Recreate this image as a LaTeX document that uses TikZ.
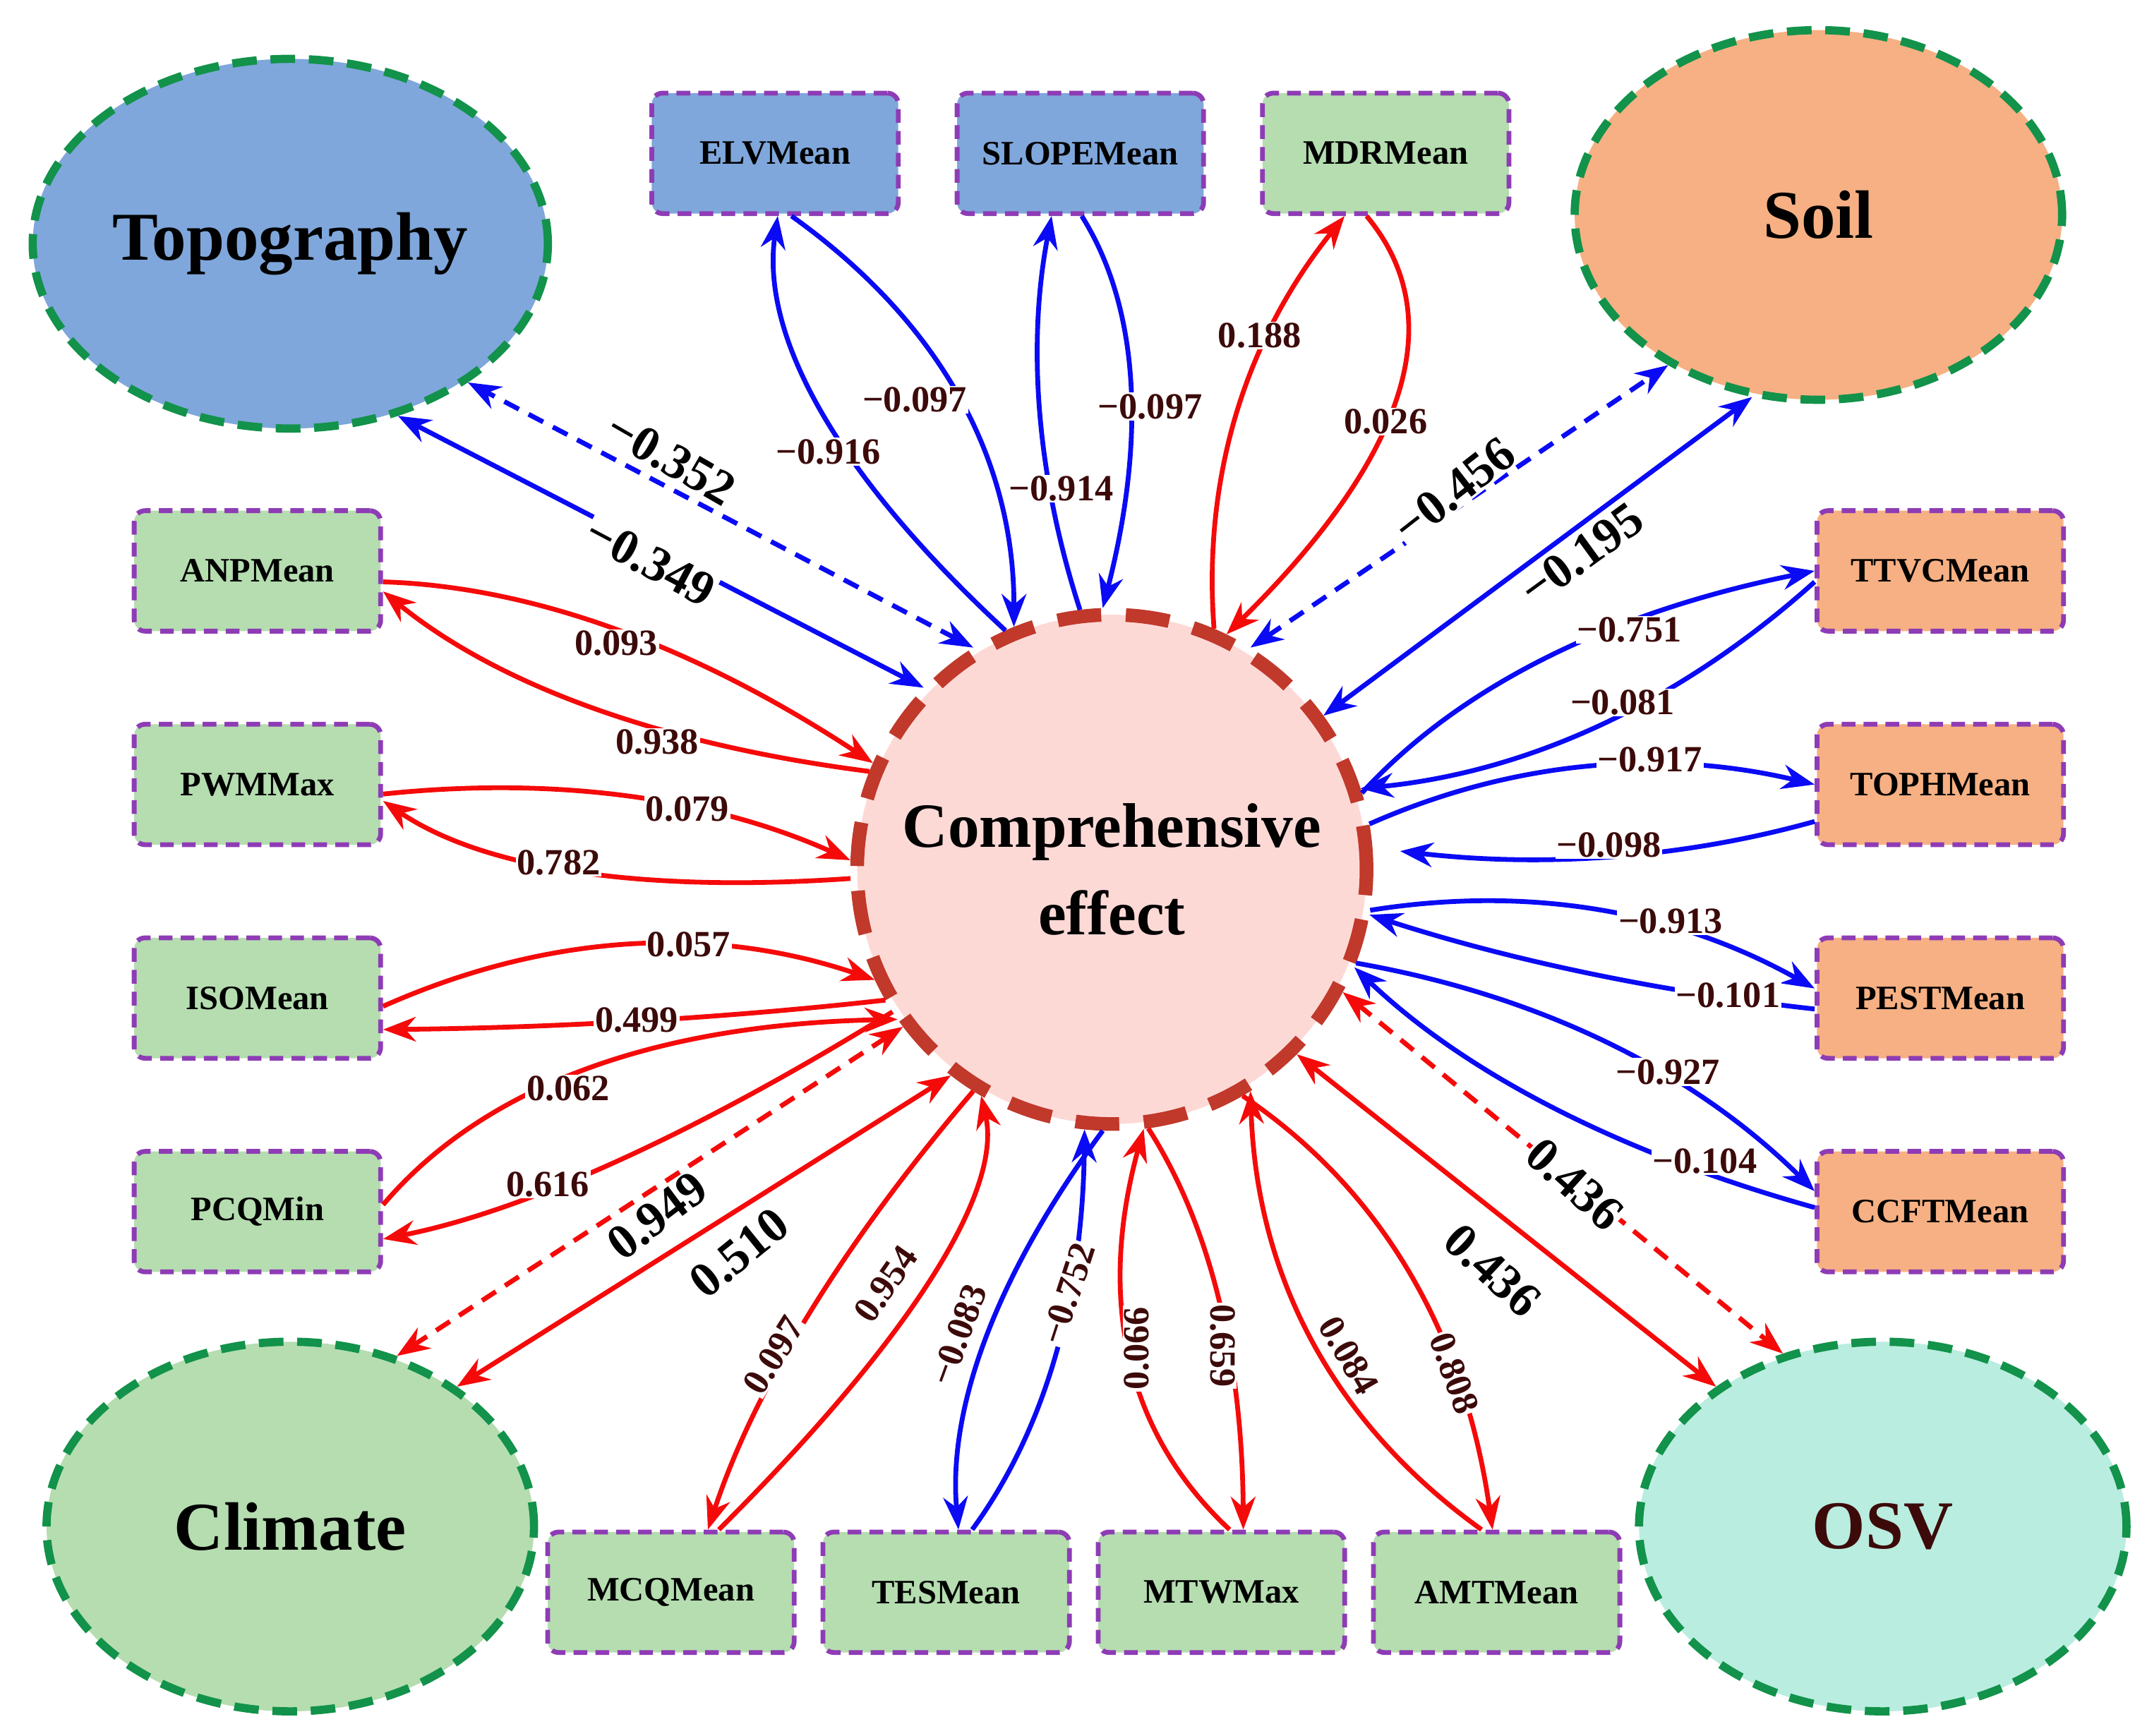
\documentclass[tikz,border=0pt]{standalone}
\usepackage{fontspec}
\setmainfont{Liberation Serif}
\usetikzlibrary{arrows.meta,shapes.geometric,calc}
\definecolor{topo}{HTML}{7FA7DB}
\definecolor{soil}{HTML}{F6B083}
\definecolor{clim}{HTML}{B5DDB0}
\definecolor{osv}{HTML}{B9EDE0}
\definecolor{cen}{HTML}{FDD9D6}
\definecolor{cenb}{HTML}{C0392B}
\definecolor{grn}{HTML}{12924A}
\definecolor{pur}{HTML}{8E3CB5}
\definecolor{lab}{HTML}{3D0A0A}
\definecolor{bl}{HTML}{0A0AF5}
\definecolor{rd}{HTML}{F50A0A}
\tikzset{
 big/.style={ellipse,draw=grn,line width=6pt,dash pattern=on 18pt off 10pt,minimum width=356pt,minimum height=270pt,font=\fontsize{50}{56}\selectfont\bfseries},
 box/.style={rectangle,rounded corners=8pt,draw=pur,line width=3.5pt,dash pattern=on 10pt off 6pt,minimum width=180pt,minimum height=88pt,font=\fontsize{25}{28}\selectfont\bfseries},
 cb/.style={bl,line width=3.5pt,-{Stealth[length=24pt,width=18pt]}},
 cr/.style={rd,line width=3.5pt,-{Stealth[length=24pt,width=18pt]}},
 bb/.style={bl,line width=3.5pt,{Stealth[length=24pt,width=18pt]}-{Stealth[length=24pt,width=18pt]}},
 br/.style={rd,line width=3.5pt,{Stealth[length=24pt,width=18pt]}-{Stealth[length=24pt,width=18pt]}},
 lb/.style={text=lab,fill=white,inner sep=1pt,font=\fontsize{27}{29}\selectfont\bfseries},
 lg/.style={text=black,fill=white,inner sep=1pt,font=\fontsize{36}{40}\selectfont\bfseries},
 quad/.style={to path={.. controls ($(\tikztostart)!0.667!#1$) and ($(\tikztotarget)!0.667!#1$) .. (\tikztotarget)}},
}
\begin{document}
\begin{tikzpicture}[x=1pt,y=-1pt]
\useasboundingbox (0,0) rectangle (1568,1268);
\node[big,fill=topo] (T) at (212,178) {Topography};
\node[big,fill=soil] (S) at (1328,157) {Soil};
\node[big,fill=clim] (CL) at (212,1115) {Climate};
\node[big,fill=osv,text=lab] (O) at (1375,1115) {OSV};
\node[circle,fill=cen,draw=cenb,line width=10pt,dash pattern=on 32pt off 18pt,minimum size=372pt,align=center,font=\fontsize{46}{64}\selectfont\bfseries] (C) at (812,635) {Comprehensive\\effect};
\node[box,fill=topo] (ELV) at (566,112) {ELVMean};
\node[box,fill=topo] (SLO) at (789,112) {SLOPEMean};
\node[box,fill=clim] (MDR) at (1012,112) {MDRMean};
\node[box,fill=clim] (ANP) at (188,417) {ANPMean};
\node[box,fill=clim] (PWM) at (188,573) {PWMMax};
\node[box,fill=clim] (ISO) at (188,729) {ISOMean};
\node[box,fill=clim] (PCQ) at (188,885) {PCQMin};
\node[box,fill=soil] (TTV) at (1417,417) {TTVCMean};
\node[box,fill=soil] (TOP) at (1417,573) {TOPHMean};
\node[box,fill=soil] (PES) at (1417,729) {PESTMean};
\node[box,fill=soil] (CCF) at (1417,885) {CCFTMean};
\node[box,fill=clim] (MCQ) at (490,1163) {MCQMean};
\node[box,fill=clim] (TES) at (691,1163) {TESMean};
\node[box,fill=clim] (MTW) at (892,1163) {MTWMax};
\node[box,fill=clim] (AMT) at (1093,1163) {AMTMean};
% top
\draw[cb] (C.114) to[quad={(549,289)}] ([xshift=2pt]ELV.south);
\draw[cb] ([xshift=12pt]ELV.south) to[quad={(741,274)}] (C.112);
\draw[cb] (C.97) to[quad={(741,298)}] ([xshift=-21pt]SLO.south);
\draw[cb] ([xshift=1pt]SLO.south) to[quad={(853,258)}] (C.92);
\draw[cr] (C.67) to[quad={(874,292)}] ([xshift=-30pt]MDR.south);
\draw[cr] ([xshift=-14pt]MDR.south) to[quad={(1092,270)}] (C.64);
\node[lb] at (605,330) {−0.916};
\node[lb] at (668,292) {−0.097};
\node[lb] at (775,357) {−0.914};
\node[lb] at (840,297) {−0.097};
\node[lb] at (920,245) {0.188};
\node[lb] at (1012,308) {0.026};
% right
\draw[cb] (C.17) to[quad={(1102,462)}] (TTV.west);
\draw[cb] ([yshift=-8pt]TTV.west) to[quad={(1177,558)}] (C.18);
\draw[cb] (C.10) to[quad={(1156,533)}] (TOP.west);
\draw[cb] ([yshift=-27pt]TOP.west) to[quad={(1182,640)}] ([xshift=20pt]C.4);
\draw[cb] (C.-9) to[quad={(1174,637)}] ([yshift=7pt]PES.west);
\draw[cb] ([yshift=-8pt]PES.west) to[quad={(1154,718)}] (C.-10);
\draw[cb] (C.-21) to[quad={(1193,739)}] ([yshift=15pt]CCF.west);
\draw[cb] ([yshift=3pt]CCF.west) to[quad={(1110,822)}] (C.-22);
\node[lb] at (1190,460) {−0.751};
\node[lb] at (1185,513) {−0.081};
\node[lb] at (1205,555) {−0.917};
\node[lb] at (1175,617) {−0.098};
\node[lb] at (1220,673) {−0.913};
\node[lb] at (1262,727) {−0.101};
\node[lb] at (1218,783) {−0.927};
\node[lb] at (1245,848) {−0.104};
% bottom
\draw[cr] (C.-60) to[quad={(1060,903)}] ([xshift=-3pt]AMT.north);
\draw[cr] ([xshift=-11pt]AMT.north) to[quad={(920,1001)}] (C.-58);
\draw[cr] (C.-82) to[quad={(907,931)}] ([xshift=16pt]MTW.north);
\draw[cr] ([xshift=6pt]MTW.north) to[quad={(784,1011)}] (C.-83);
\draw[cb] (C.-92) to[quad={(688,985)}] ([xshift=9pt]TES.north);
\draw[cb] ([xshift=19pt]TES.north) to[quad={(790,1008)}] (C.-96);
\draw[cr] (C.-122) to[quad={(567,965)}] ([xshift=27pt]MCQ.north);
\draw[cr] ([xshift=35pt]MCQ.north) to[quad={(740,903)}] (C.-120);
\node[lb,rotate=-70] at (1062,1003) {0.808};
\node[lb,rotate=-60] at (985,990) {0.084};
\node[lb,rotate=-90] at (893,983) {0.659};
\node[lb,rotate=90] at (830,985) {0.066};
\node[lb,rotate=72] at (780,945) {−0.752};
\node[lb,rotate=70] at (700,975) {−0.083};
\node[lb,rotate=55] at (647,938) {0.954};
\node[lb,rotate=58] at (565,990) {0.097};
% left
\draw[cr] ([yshift=-8pt]ANP.east) to[quad={(444,430)}] (C.156);
\draw[cr] (C.158) to[quad={(405,534)}] ([yshift=-15pt]ANP.east);
\draw[cr] (C.182) to[quad={(387,658)}] ([yshift=-12pt]PWM.east);
\draw[cr] ([yshift=-7pt]PWM.east) to[quad={(469,560)}] (C.178);
\draw[cr] ([yshift=-6pt]ISO.east) to[quad={(460,655)}] (C.-155);
\draw[cr] (C.-150) to[quad={(472,750)}] ([yshift=-23pt]ISO.east);
\draw[cr] ([yshift=5pt]PCQ.east) to[quad={(390,750)}] (C.-145);
\draw[cr] (C.-147) to[quad={(432,875)}] ([yshift=-20pt]PCQ.east);
\node[lb] at (450,470) {0.093};
\node[lb] at (480,542) {0.938};
\node[lb] at (502,591) {0.079};
\node[lb] at (408,630) {0.782};
\node[lb] at (503,690) {0.057};
\node[lb] at (465,745) {0.499};
\node[lb] at (415,795) {0.062};
\node[lb] at (400,865) {0.616};
% big straight
\draw[bb,dash pattern=on 12pt off 8pt] (C.122) -- (T.-38);
\draw[bb] (C.136) -- (T.-58);
\draw[bb,dash pattern=on 12pt off 8pt] (C.58) -- (S.-135);
\draw[bb] (C.36) -- (S.-110);
\draw[br,dash pattern=on 12pt off 8pt] (C.-28) -- (O.120);
\draw[br] (C.-45) -- (O.140);
\draw[br,dash pattern=on 12pt off 8pt] (C.-143) -- (CL.58);
\draw[br] (C.-128) -- (CL.40);
\node[lg,rotate=-30] at (490,335) {−0.352};
\node[lg,rotate=-28] at (475,410) {−0.349};
\node[lg,rotate=38] at (1062,358) {−0.456};
\node[lg,rotate=36] at (1155,405) {−0.195};
\node[lg,rotate=37] at (480,888) {0.949};
\node[lg,rotate=39] at (540,915) {0.510};
\node[lg,rotate=-42] at (1150,865) {0.436};
\node[lg,rotate=-43] at (1090,928) {0.436};
\end{tikzpicture}
\end{document}
